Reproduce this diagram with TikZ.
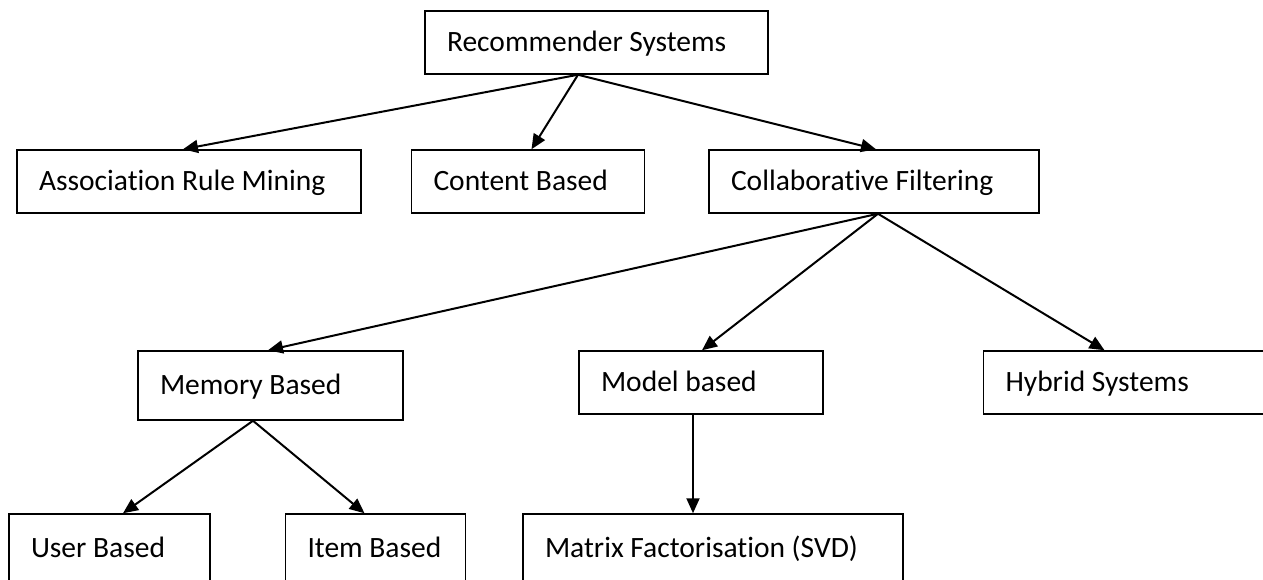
\documentclass[tikz,border=0pt]{standalone}
\usepackage{fontspec}
\setmainfont{Carlito}[Ligatures=NoCommon]
\usetikzlibrary{arrows.meta,positioning}
\tikzset{
	every node/.style={
		font=\fontsize{29.5}{35}\selectfont
	},
	category/.style={
		shape=rectangle,
		draw,
		line width=1.5pt,
		minimum height=63pt,
		inner xsep=22pt,
		text height=18pt,
		text depth=0pt,
		align=flush left
	},
	tall/.style={
		minimum height=69pt
	}
}

\begin{document}
\begin{tikzpicture}[x=1pt,y=1pt,->,>={Triangle[length=15pt,width=13pt]},line width=2pt]
	\useasboundingbox (0,0) rectangle (1263,-580);
	\clip (0,0) rectangle (1263,-580);
	
	\node[category, text width=299pt]         (RS)  at (596.5,-42.5)      {Recommender Systems};
	
	\node[category, text width=300pt]         (ARM) at (189,-181.5)       {Association Rule Mining};
	\node[category, text width=189pt]         (CB)  [right=49pt of ARM]   {Content Based};
	\node[category, text width=286pt]         (CF)  [right=63pt of CB]    {Collaborative Filtering};
	
	\node[category, tall, text width=221pt]   (MB)  at (270.5,-385.5)     {Memory Based};
	\node[category, text width=200pt]         (MoB) at (701,-382.5)       {Model based};
	\node[category, text width=236pt]         (HS)  [right=159pt of MoB]  {Hybrid Systems};
	
	\node[category, tall, text width=157pt]   (UB)  at (109.5,-548.5)     {User Based};
	\node[category, tall, text width=136pt]   (IB)  [right=74pt of UB]    {Item Based};
	\node[category, tall, text width=336pt]   (MF)  [right=56pt of IB]    {Matrix Factorisation (SVD)};
	
	\path ([xshift=-18.5pt]RS.south) edge ([xshift=-6pt]ARM.north)
	([xshift=-18.5pt]RS.south) edge ([xshift=3.5pt]CB.north)
	([xshift=-18.5pt]RS.south) edge ([xshift=2pt]CF.north)
	([xshift=4pt]CF.south) edge ([xshift=-2.5pt]MB.north)
	([xshift=4pt]CF.south) edge ([xshift=1pt]MoB.north)
	([xshift=4pt]CF.south) edge ([xshift=-19pt]HS.north)
	([xshift=-17.5pt]MB.south) edge ([xshift=13.5pt]UB.north)
	([xshift=-17.5pt]MB.south) edge ([xshift=-11pt]IB.north)
	([xshift=-8pt]MoB.south) edge ([xshift=-8pt]MoB.south |- MF.north);
\end{tikzpicture}
\end{document}
